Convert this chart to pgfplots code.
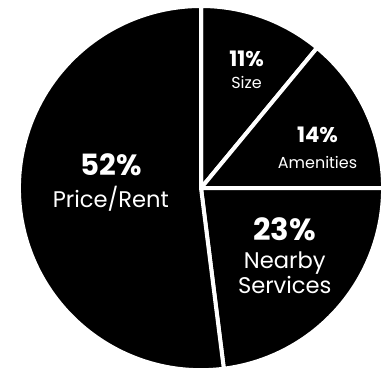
\documentclass[border=0pt]{standalone}
\usepackage{pgfplots}
\pgfplotsset{compat=1.18}
\usepackage{fontspec}
\setmainfont{Poppins}
\begin{document}
\begin{tikzpicture}
\begin{axis}[
  x=4.81cm, y=4.81cm,
  xmin=-1.104, xmax=1.016, ymin=-1.033, ymax=1.033,
  hide axis, clip=false]
  \path (rel axis cs:0,0) rectangle (rel axis cs:1,1);
  % slices: values in percent, clockwise from 90 degrees
  % Size 11, Amenities 14, Nearby Services 23, Price/Rent 52
  \def\R{4.81cm}
  \fill[black, draw=white, line width=3pt, line join=round] (0,0) -- (90:1) arc[start angle=90, end angle={90-3.6*11}, radius=\R] -- cycle;
  \fill[black, draw=white, line width=3pt, line join=round] (0,0) -- ({90-3.6*11}:1) arc[start angle={90-3.6*11}, end angle={90-3.6*25}, radius=\R] -- cycle;
  \fill[black, draw=white, line width=3pt, line join=round] (0,0) -- ({90-3.6*25}:1) arc[start angle={90-3.6*25}, end angle={90-3.6*48}, radius=\R] -- cycle;
  \fill[black, draw=white, line width=3pt, line join=round] (0,0) -- ({90-3.6*48}:1) arc[start angle={90-3.6*48}, end angle={90-3.6*100}, radius=\R] -- cycle;
  \node[white, font=\fontsize{22}{24}\selectfont\bfseries] at (-0.495,0.13) {52\%};
  \node[white, font=\fontsize{17}{19}\selectfont] at (-0.495,-0.06) {Price/Rent};
  \node[white, inner sep=1pt, font=\fontsize{23}{25}\selectfont\bfseries] at (0.46,-0.225) {23\%};
  \node[white, inner sep=1pt, font=\fontsize{17}{19.5}\selectfont, align=center] at (0.46,-0.465) {Nearby\\Services};
  \node[white, font=\fontsize{16}{18}\selectfont\bfseries] at (0.25,0.71) {11\%};
  \node[white, font=\fontsize{12}{14}\selectfont] at (0.25,0.58) {Size};
  \node[white, font=\fontsize{16}{18}\selectfont\bfseries] at (0.64,0.29) {14\%};
  \node[white, font=\fontsize{12}{14}\selectfont] at (0.64,0.14) {Amenities};
\end{axis}
\end{tikzpicture}
\end{document}
